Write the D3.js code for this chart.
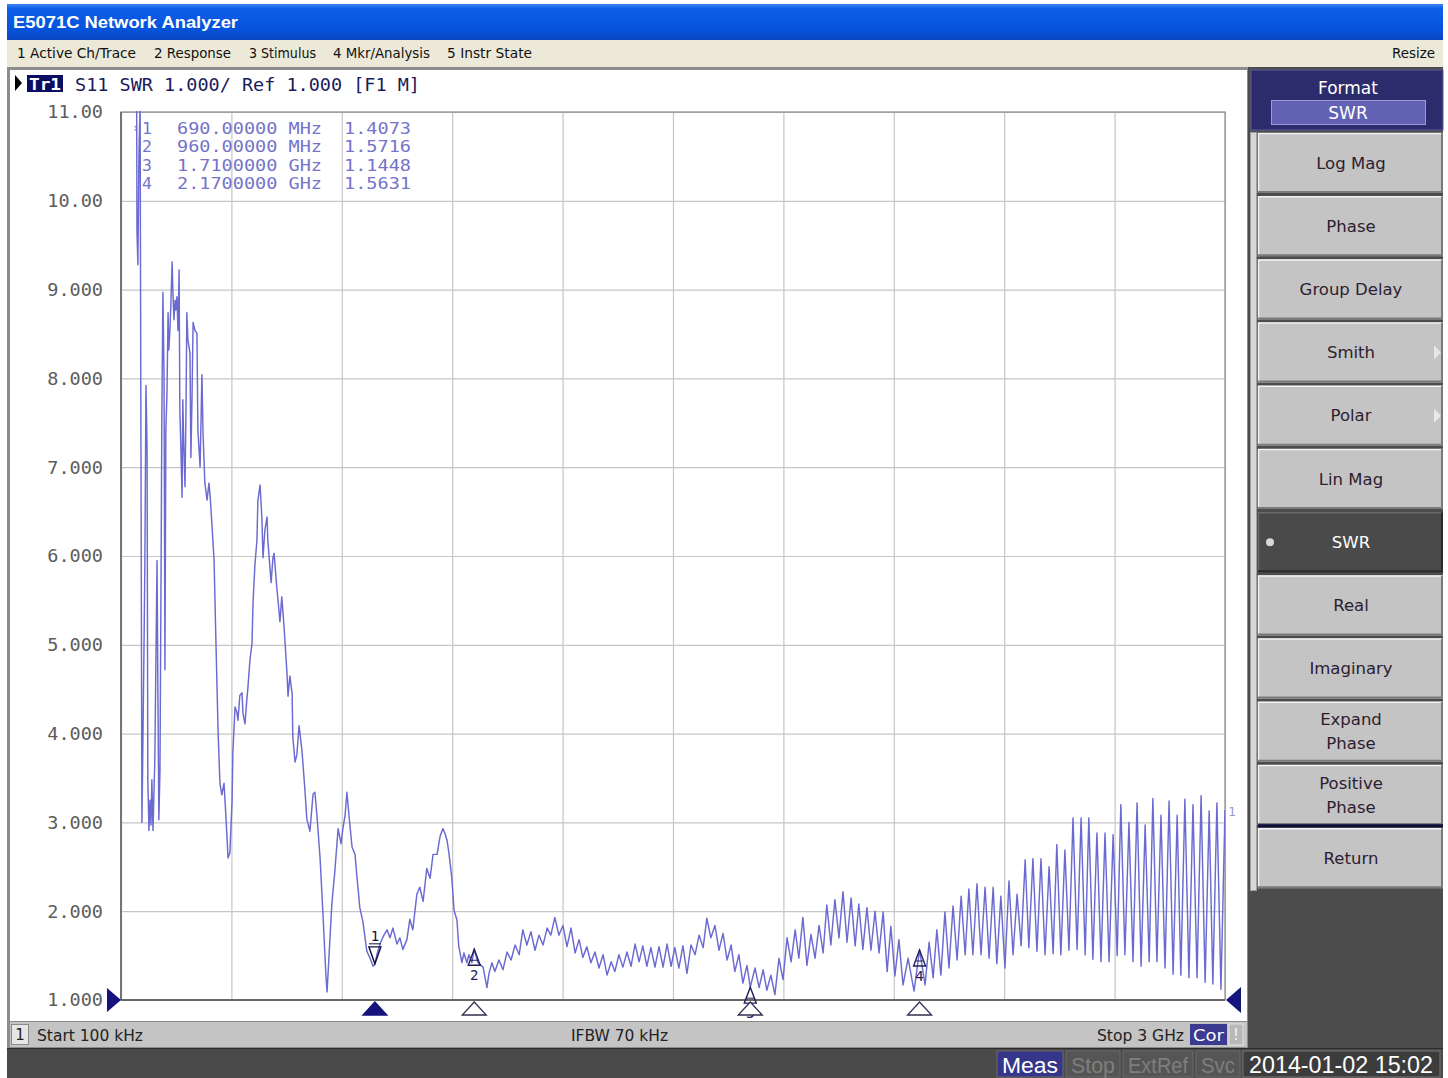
<!DOCTYPE html>
<html><head><meta charset="utf-8">
<script src="https://cdn.jsdelivr.net/npm/d3@7"></script>
<style>
html,body{margin:0;padding:0;background:#fff;overflow:hidden;}
svg{display:block;}
</style></head><body>
<svg id="c" width="1448" height="1078"></svg>
<script>
// ---------------- DATA ----------------
const startMHz = 0.1, stopMHz = 3000;
const yTickValues = [1,2,3,4,5,6,7,8,9,10,11];
const yTickLabels = ["1.000","2.000","3.000","4.000","5.000","6.000","7.000","8.000","9.000","10.00","11.00"];

// S11 SWR trace, [frequency MHz, SWR]
const traceSWR = [
[0.1,40],[24,30],[41,14],[43.5,9.65],[46,9.28],[49,10.57],[52,11.08],[54,7.76],[57,3.00],[60,4.04],
[62.5,4.94],[65,5.95],[68,7.92],[71,7.19],[73,3.48],[76,2.91],[79,3.25],[81.5,2.97],[84,3.48],[87,2.91],
[92,3.70],[98,5.95],[100.5,4.38],[103,3.03],[106,3.59],[109,5.84],[111,7.53],[114,8.97],[117,8.07],[119.5,4.72],
[122,7.42],[125,7.83],[128,8.74],[130,8.32],[133,8.54],[136,8.88],[139,9.31],[141,8.99],[144,8.66],[147,8.88],
[149,8.77],[152,8.92],[155,8.54],[158,9.22],[160,7.64],[163,7.19],[166,6.66],[168,7.76],[171,7.19],[174,6.78],
[177,7.76],[179,8.74],[182,8.43],[187.5,8.29],[190,7.11],[193,7.76],[196,8.63],[201,8.54],[206.5,8.51],[209,7.42],
[215,7.00],[220,8.04],[223,7.38],[228,6.82],[234,6.63],[239,6.82],[242,6.69],[247,6.37],[253,5.95],[258,5.05],
[264,4.01],[269,3.44],[274,3.31],[280,3.44],[285,3.08],[291,2.60],[296,2.66],[302,3.25],[304,3.78],[310,4.30],
[315,4.24],[318,4.15],[323,4.43],[329,4.46],[331.5,4.23],[337,4.11],[342,4.38],[345,4.52],[350.5,4.83],[356,5.01],
[359,5.49],[364,5.90],[369.5,6.18],[372,6.62],[378,6.80],[383,6.42],[386,5.98],[391,6.29],[397,6.44],[399,6.18],
[408,5.70],[413,5.98],[416,6.03],[424,5.62],[427,5.49],[432,5.26],[437,5.54],[443,5.21],[451,4.69],[454,4.42],
[459,4.65],[465,4.45],[467,3.96],[473,3.68],[478,3.76],[484,4.09],[492,3.80],[500,3.36],[505,3.04],[513.5,2.90],
[522,3.32],[527,3.34],[532.5,3.08],[541,2.60],[549,1.96],[557,1.27],[560,1.09],[565,1.47],[573,2.08],[581,2.44],
[590,2.93],[598,2.76],[603,2.93],[609,3.08],[614,3.34],[619.5,3.08],[628,2.72],[636,2.64],[641,2.40],[649,2.04],
[657.5,1.88],[668,1.55],[677,1.47],[685,1.38],[690,1.4073],[696,1.52],[704,1.63],[712,1.71],[723,1.79],[731,1.70],
[739,1.81],[750,1.63],[758,1.70],[766,1.57],[777,1.68],[785,1.91],[793,1.79],[804,2.19],[812,2.27],[821,2.11],
[831,2.48],[840,2.37],[848,2.64],[859,2.64],[867,2.84],[875,2.93],[880,2.88],[886,2.80],[891,2.66],[899,2.38],
[905,2.01],[913,1.90],[918,1.60],[926.5,1.42],[932,1.53],[940,1.42],[945.5,1.51],[953.5,1.42],[960,1.5716],[970,1.42],
[984,1.37],[994.5,1.14],[1000,1.30],[1008,1.42],
[1016,1.32],[1027,1.45],[1038,1.34],[1049,1.54],[1060,1.45],[1071,1.62],[1082,1.51],[1092,1.79],[1103,1.62],[1114,1.77],
[1125,1.56],[1136,1.73],[1147,1.62],[1158,1.81],[1168,1.73],[1179,1.93],[1190,1.73],[1201,1.84],[1212,1.60],[1223,1.81],
[1234,1.53],[1245,1.68],[1255,1.48],[1266,1.60],[1277,1.42],[1288,1.54],[1299,1.36],[1310,1.51],[1321,1.28],[1332,1.43],
[1342,1.32],[1353,1.51],[1364,1.37],[1375,1.54],[1386,1.38],[1397,1.63],[1408,1.43],[1418,1.61],[1429,1.38],[1440,1.59],
[1451,1.37],[1462,1.60],[1473,1.37],[1484,1.63],[1495,1.38],[1505,1.59],[1516,1.36],[1527,1.61],[1538,1.30],[1549,1.62],
[1560,1.51],[1571,1.73],[1582,1.59],[1592,1.92],[1603,1.70],[1614,1.84],[1625,1.56],[1636,1.75],[1647,1.45],[1658,1.62],
[1668,1.32],[1679,1.51],[1690,1.19],[1701,1.39],[1710,1.1448],[1723,1.36],[1734,1.14],[1745,1.34],[1755,1.11],[1766,1.28],
[1777,1.06],[1788,1.47],[1799,1.23],[1810,1.70],[1821,1.43],[1832,1.79],[1842,1.47],[1853,1.93],[1864,1.39],[1875,1.74],
[1886,1.47],[1897,1.84],[1908,1.53],[1918,2.07],[1929,1.62],[1940,2.13],[1951,1.70],[1962,2.22],[1973,1.65],[1984,2.15],
[1995,1.61],[2005,2.08],[2016,1.57],[2027,2.04],[2038,1.56],[2049,2.00],[2060,1.53],[2071,1.99],[2082,1.32],[2092,1.83],
[2103,1.27],[2114,1.68],[2125,1.17],[2139,1.47],[2155,1.10],[2170,1.5631],[2185,1.17],[2196,1.65],[2207,1.25],[2217,1.79],
[2228,1.28],[2239,1.99],[2250,1.36],[2261,2.06],[2272,1.45],[2283,2.17],[2294,1.51],[2304,2.25],[2315,1.51],[2326,2.31],
[2337,1.51],[2348,2.27],[2359,1.47],[2370,2.27],[2380,1.41],[2391,2.17],[2402,1.36],[2413,2.34],[2424,1.51],[2435,2.19],
[2446,1.61],[2457,2.58],[2467,1.59],[2478,2.59],[2489,1.55],[2500,2.59],[2511,1.51],[2522,2.50],[2533,1.52],[2543,2.75],
[2554,1.51],[2565,2.69],[2576,1.56],[2587,3.05],[2598,1.57],[2609,3.05],[2620,1.51],[2630,3.05],[2641,1.46],[2652,2.88],
[2663,1.43],[2674,2.88],[2685,1.43],[2696,2.86],[2707,1.50],[2717,3.20],[2728,1.51],[2739,3.00],[2750,1.43],[2761,3.22],
[2772,1.38],[2783,2.97],[2794,1.43],[2804,3.27],[2815,1.43],[2826,3.08],[2837,1.36],[2848,3.24],[2859,1.29],[2870,3.08],
[2880,1.28],[2891,3.26],[2902,1.25],[2913,3.20],[2924,1.25],[2935,3.30],[2946,1.20],[2957,3.13],[2967,1.18],[2978,3.22],
[2989,1.12],[3000,3.14]
];

const markerNames = ["1","2","3","4"];
const markerFreqMHz = [690, 960, 1710, 2170];
const markerSwr = [1.4073, 1.5716, 1.1448, 1.5631];
const markerFreqText = ["690.00000 MHz","960.00000 MHz","1.7100000 GHz","2.1700000 GHz"];
const markerValText = ["1.4073","1.5716","1.1448","1.5631"];

const titleText = "E5071C Network Analyzer";
const menuItems = ["1 Active Ch/Trace","2 Response","3 Stimulus","4 Mkr/Analysis","5 Instr State"];
const traceHeader = "S11 SWR 1.000/ Ref 1.000 [F1 M]";
const softkeys = ["Log Mag","Phase","Group Delay","Smith","Polar","Lin Mag","SWR","Real","Imaginary","Expand|Phase","Positive|Phase","Return"];
const statusLeft = "Start 100 kHz", statusMid = "IFBW 70 kHz", statusRight = "Stop 3 GHz";
const bottomItems = ["Meas","Stop","ExtRef","Svc"];
const dateText = "2014-01-02 15:02";

// ---------------- DRAW ----------------
const svg = d3.select("#c");
const UI = "'DejaVu Sans', Verdana, sans-serif";
const MONO = "'DejaVu Sans Mono', 'Liberation Mono', monospace";

function txt(g, s, x, y, o) {
  const t = g.append("text").attr("x", x).attr("y", y).text(s)
    .attr("font-family", o.font || UI).attr("font-size", o.size || 15)
    .attr("fill", o.fill || "#000").attr("text-anchor", o.anchor || "start")
    .attr("dominant-baseline", "central");
  if (o.weight) t.attr("font-weight", o.weight);
  if (o.len) t.attr("textLength", o.len).attr("lengthAdjust", "spacingAndGlyphs");
  return t;
}

const defs = svg.append("defs");
const tg = defs.append("linearGradient").attr("id","tb").attr("x1",0).attr("y1",0).attr("x2",0).attr("y2",1);
[["0%","#3d86f5"],["12%","#0e5fe9"],["70%","#0553dc"],["100%","#0a45c0"]].forEach(s=>tg.append("stop").attr("offset",s[0]).attr("stop-color",s[1]));

// title bar
svg.append("rect").attr("x",7).attr("y",4).attr("width",1436).attr("height",36).attr("fill","url(#tb)");
txt(svg, titleText, 13, 22, {size:17, weight:"bold", fill:"#fff", font:"'Liberation Sans', Arial, sans-serif", len:225});

// menu bar
svg.append("rect").attr("x",7).attr("y",40).attr("width",1436).attr("height",28).attr("fill","#ece9d8");
const menuX = [17,154,249,333,447], menuW = [119,77,67,97,85];
menuItems.forEach((m,i)=>txt(svg, m, menuX[i], 53, {size:14, fill:"#111", font:"'DejaVu Sans', sans-serif", len:menuW[i]}));
txt(svg, "Resize", 1392, 53, {size:14, fill:"#111", len:43});

// window frame
svg.append("rect").attr("x",7).attr("y",67).attr("width",1436).attr("height",982).attr("fill","#8c8c8c");
svg.append("rect").attr("x",10).attr("y",70).attr("width",1237).attr("height",951).attr("fill","#ffffff");

// ---------- chart ----------
const L = 121, R = 1225, T = 112, B = 1000;
const x = d3.scaleLinear().domain([startMHz, stopMHz]).range([L, R]);
const y = d3.scaleLinear().domain([1, 11]).range([B, T]);

const gridF = d3.range(11).map(i => startMHz + i * (stopMHz - startMHz) / 10);
const gx = svg.append("g").attr("transform", `translate(0,${B})`)
  .call(d3.axisBottom(x).tickValues(gridF).tickSize(-(B - T)).tickFormat(""));
gx.select(".domain").remove();
gx.selectAll("line").attr("stroke", "#c6c6c6").attr("stroke-width", 1.2);

const gy = svg.append("g").attr("transform", `translate(${L},0)`)
  .call(d3.axisLeft(y).tickValues(yTickValues).tickSize(-(R - L)).tickPadding(18)
        .tickFormat((d,i) => yTickLabels[i]));
gy.select(".domain").remove();
gy.selectAll("line").attr("stroke", "#c6c6c6").attr("stroke-width", 1.2);
gy.selectAll("text").attr("font-family", MONO).attr("font-size", 18.5).attr("fill", "#5c5c5c");

// frame
svg.append("rect").attr("x",L).attr("y",T).attr("width",R-L).attr("height",B-T)
  .attr("fill","none").attr("stroke","#8a8a8a").attr("stroke-width",1.2);
svg.append("line").attr("x1",L).attr("x2",R).attr("y1",B).attr("y2",B).attr("stroke","#505050").attr("stroke-width",1.5);
svg.append("line").attr("x1",L).attr("x2",L).attr("y1",T).attr("y2",B).attr("stroke","#606060").attr("stroke-width",1.5);

// trace
defs.append("clipPath").attr("id","pc").append("rect").attr("x",L).attr("y",T-1).attr("width",R-L).attr("height",B-T+1);
const line = d3.line().x(d => x(d[0])).y(d => y(d[1]));
svg.append("path").datum(traceSWR).attr("d", line).attr("clip-path","url(#pc)")
  .attr("fill","none").attr("stroke","#6a6ad2").attr("stroke-width",1.45).attr("stroke-linejoin","round");

// trace label at right end
txt(svg, "1", R + 3, y(traceSWR[traceSWR.length-1][1]) + 2, {size:13, fill:"#9a9ad8", font:MONO});

// reference position markers
svg.append("path").attr("d", `M${L-14},${B-12}L${L},${B}L${L-14},${B+12}Z`).attr("fill","#14147a");
svg.append("path").attr("d", `M${R+16},${B-13}L${R+1},${B}L${R+16},${B+13}Z`).attr("fill","#14147a");

// markers on trace
markerNames.forEach((n,i) => {
  const cx = x(markerFreqMHz[i]), cy = y(markerSwr[i]);
  if (i === 0) {
    svg.append("path").attr("d", `M${cx-6},${cy-17}L${cx+6},${cy-17}L${cx},${cy}Z`)
      .attr("fill","none").attr("stroke","#101040").attr("stroke-width",1.4);
    svg.append("line").attr("x1",cx-6).attr("x2",cx+6).attr("y1",cy-20).attr("y2",cy-20).attr("stroke","#101040");
    txt(svg, n, cx, cy - 28, {size:14, fill:"#101040", anchor:"middle", font:MONO});
  } else {
    svg.append("path").attr("d", `M${cx-6},${cy+16}L${cx+6},${cy+16}L${cx},${cy}Z`)
      .attr("fill","none").attr("stroke","#202060").attr("stroke-width",1.4);
    svg.append("line").attr("x1",cx-4).attr("x2",cx+4).attr("y1",cy+11).attr("y2",cy+11).attr("stroke","#202060");
    txt(svg, n, cx, cy + 26, {size:14, fill:"#202060", anchor:"middle", font:MONO});
  }
  // stimulus markers below the axis
  svg.append("path").attr("d", `M${cx-12},${B+15}L${cx+12},${B+15}L${cx},${B+2}Z`)
    .attr("fill", i === 0 ? "#14147a" : "#ffffff").attr("stroke", i === 0 ? "#14147a" : "#303050").attr("stroke-width",1.3);
});

// marker table
const rowsY = [128, 146, 165, 183];
markerNames.forEach((n,i) => {
  const c = "#7474c8";
  txt(svg, n, 142, rowsY[i], {size:16.5, fill:c, font:MONO});
  txt(svg, markerFreqText[i], 177, rowsY[i], {size:16.5, fill:c, font:MONO, len:145});
  txt(svg, markerValText[i], 344, rowsY[i], {size:16.5, fill:c, font:MONO, len:67});
});
txt(svg, "›", 132, rowsY[0], {size:12, fill:"#7474c8", font:MONO});

// trace header
svg.append("path").attr("d","M15,75L22,83L15,91Z").attr("fill","#000");
svg.append("rect").attr("x",27).attr("y",75).attr("width",36).attr("height",17).attr("fill","#0c0c60");
txt(svg, "Tr1", 45, 84, {size:16, fill:"#fff", font:MONO, weight:"bold", anchor:"middle", len:32});
txt(svg, traceHeader, 75, 84, {size:18.5, fill:"#1a1a5a", font:MONO, len:345});

// channel status bar
svg.append("rect").attr("x",10).attr("y",1021).attr("width",1237).attr("height",26).attr("fill","#c4c4c4");
svg.append("line").attr("x1",10).attr("x2",1247).attr("y1",1021.5).attr("y2",1021.5).attr("stroke","#8a8a8a");
svg.append("rect").attr("x",11.5).attr("y",1024.5).attr("width",17).attr("height",20).attr("fill","#e6e6e6").attr("stroke","#8a8a8a");
txt(svg, "1", 20, 1035, {size:15, fill:"#222", anchor:"middle"});
txt(svg, statusLeft, 37, 1035, {size:16, fill:"#222", len:106});
txt(svg, statusMid, 571, 1035, {size:16, fill:"#222", len:97});
txt(svg, statusRight, 1097, 1035, {size:16, fill:"#222", len:87});
svg.append("rect").attr("x",1190).attr("y",1024).attr("width",37).attr("height",21).attr("fill","#3a3a90");
txt(svg, "Cor", 1208.5, 1035, {size:16, fill:"#fff", anchor:"middle", len:31});
svg.append("rect").attr("x",1229).attr("y",1024).attr("width",14).attr("height",21).attr("fill","#b8b8b8").attr("stroke","#e0e0e0");
txt(svg, "!", 1236, 1035, {size:15, fill:"#f4f4f4", anchor:"middle"});

// ---------- softkey panel ----------
svg.append("rect").attr("x",1248).attr("y",67).attr("width",195).attr("height",982).attr("fill","#4c4c4c");
svg.append("rect").attr("x",1251).attr("y",70).attr("width",192).attr("height",60).attr("fill","#2c2c6c").attr("stroke","#5a5a9a");
txt(svg, "Format", 1348, 88, {size:17, fill:"#fff", anchor:"middle"});
svg.append("rect").attr("x",1271.5).attr("y",100.5).attr("width",154).attr("height",24).attr("fill","#6262b4").attr("stroke","#9a9ad8");
txt(svg, "SWR", 1348, 113, {size:17, fill:"#fff", anchor:"middle"});
svg.append("rect").attr("x",1250.5).attr("y",132.5).attr("width",6).attr("height",758).attr("fill","#d8d8d8").attr("stroke","#a0a0a0");

softkeys.forEach((k,i) => {
  const top = 133 + i * 63.2, h = 60, bx = 1258, bw = 185;
  const sel = (k === "SWR");
  const g = svg.append("g");
  g.append("rect").attr("x",bx).attr("y",top).attr("width",bw).attr("height",h).attr("fill", sel ? "#4a4a4a" : "#c4c4c4");
  g.append("path").attr("d",`M${bx+0.5},${top+h}V${top+0.5}H${bx+bw}`).attr("fill","none").attr("stroke", sel ? "#6a6a6a" : "#f4f4f4").attr("stroke-width",1.5);
  g.append("path").attr("d",`M${bx},${top+h-1}H${bx+bw-1}V${top}`).attr("fill","none").attr("stroke", sel ? "#2a2a2a" : "#7a7a7a").attr("stroke-width",2);
  const lines = k.split("|");
  const cx = 1351, cy = top + h/2;
  if (lines.length === 1) txt(g, lines[0], cx, cy, {size:16.5, fill: sel ? "#fff" : "#2c2030", anchor:"middle"});
  else lines.forEach((s,j) => txt(g, s, cx, cy - 12 + j*24, {size:16.5, fill:"#2c2030", anchor:"middle"}));
  if (sel) g.append("circle").attr("cx",1270).attr("cy",cy).attr("r",4).attr("fill","#d8d8d8");
  if (k === "Smith" || k === "Polar")
    g.append("path").attr("d",`M${bx+bw-9},${cy-7}L${bx+bw-2},${cy}L${bx+bw-9},${cy+7}Z`).attr("fill","#e8e8e8");
  if (k === "Return")
    svg.append("rect").attr("x",bx).attr("y",top-4).attr("width",bw).attr("height",3).attr("fill","#10103a");
});

// ---------- bottom instrument bar ----------
svg.append("rect").attr("x",7).attr("y",1048).attr("width",1436).attr("height",30).attr("fill","#4a4a4a");
svg.append("line").attr("x1",7).attr("x2",1443).attr("y1",1048.5).attr("y2",1048.5).attr("stroke","#2a2a2a");
const bX = [997,1066,1123,1196], bW = [66,54,70,44];
bottomItems.forEach((b,i) => {
  svg.append("rect").attr("x",bX[i]).attr("y",1051).attr("width",bW[i]).attr("height",26)
    .attr("fill", i === 0 ? "#35358a" : "#555555").attr("stroke","#6a6a6a");
  txt(svg, b, bX[i] + bW[i]/2, 1065, {size:22, fill: i === 0 ? "#ffffff" : "#7e7e7e", anchor:"middle",
      font:"'Liberation Sans', Arial, sans-serif", len: bW[i] - 10});
});
svg.append("rect").attr("x",1243).attr("y",1051).attr("width",197).attr("height",26).attr("fill","#3c3c3c").attr("stroke","#777");
txt(svg, dateText, 1341, 1065, {size:23, fill:"#fff", anchor:"middle", font:"'Liberation Sans', Arial, sans-serif", len:184});
</script>
</body></html>
